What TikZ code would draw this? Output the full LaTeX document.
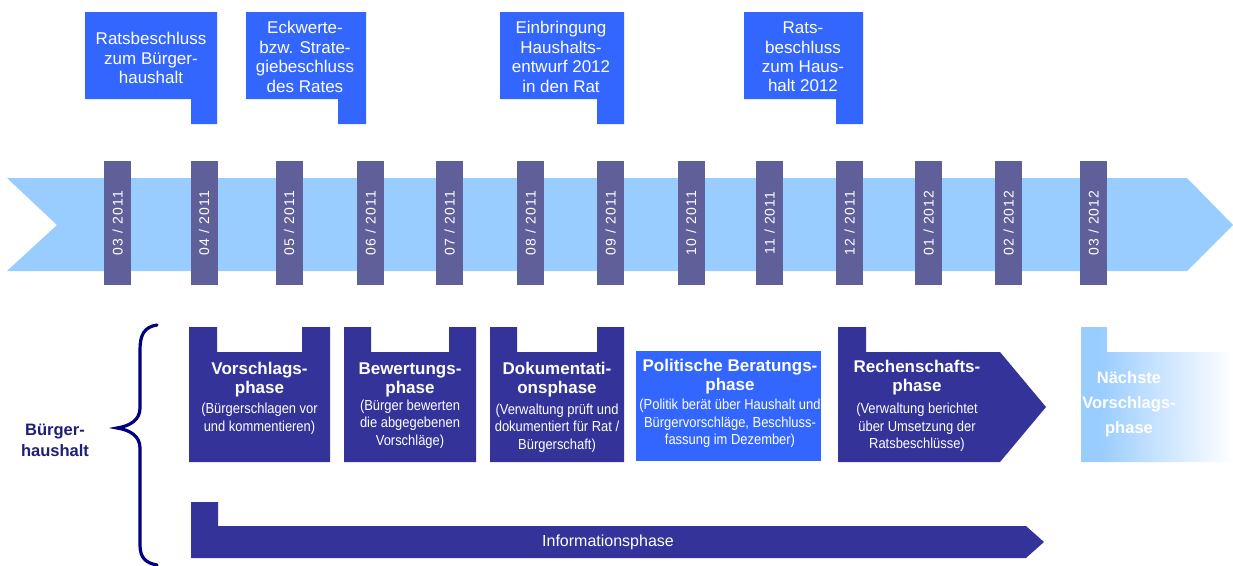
\documentclass[tikz,border=0pt]{standalone}
\usepackage{fontspec}
\setmainfont{Liberation Sans}
\newfontfamily\condensed[FakeStretch=0.89]{Liberation Sans}
\newfontfamily\tracked[LetterSpace=8]{Liberation Sans}
\definecolor{milestone}{HTML}{3366FF}
\definecolor{band}{HTML}{99CCFF}
\definecolor{monthbar}{HTML}{5F5F9A}
\definecolor{phase}{HTML}{333399}
\definecolor{bracecol}{HTML}{000080}
\definecolor{labelcol}{HTML}{1F1F75}
% light blue that fades out to white towards the right
\pgfdeclarehorizontalshading{fadeout}{100bp}{color(0bp)=(band); color(25bp)=(band);
  color(31bp)=(band); color(50bp)=(band!55!white); color(75bp)=(white); color(100bp)=(white)}

\begin{document}
\begin{tikzpicture}[x=0.75pt,y=-0.75pt,
  milestonetext/.style={text=white, align=center, inner sep=0pt,
    font=\fontsize{12.75pt}{14.6pt}\selectfont},
  monthlabel/.style={text=white, rotate=90, inner sep=0pt,
    font=\tracked\fontsize{10.5pt}{11pt}\selectfont},
  phasetitle/.style={text=white, align=center, inner sep=0pt,
    font=\bfseries\fontsize{12.75pt}{14.25pt}\selectfont},
  phasebody/.style={text=white, align=center, inner sep=0pt,
    font=\condensed\fontsize{10.9pt}{13.1pt}\selectfont},
]
\useasboundingbox (0,0) rectangle (1233,565);
\fill[white] (0,0) rectangle (1233,565);

% timeline band
\fill[band] (7,178) -- (1187,178) -- (1233,225) -- (1187,271) -- (7,271) -- (57,225) -- cycle;

% month markers
\foreach \xl/\m/\yr [count=\i] in {104/03/2011, 190.5/04/2011, 275.5/05/2011, 357/06/2011,
    436/07/2011, 517/08/2011, 597/09/2011, 677.5/10/2011, 756/11/2011, 836/12/2011,
    915/01/2012, 995/02/2012, 1080/03/2012}{
  \fill[monthbar] (\xl,161) rectangle ++(27,124);
  \node[monthlabel] (month\i) at (\xl+13.5,223) {\m{} / \yr};
}

% council decisions above the timeline
\fill[milestone] (85,12) -- (217,12) -- (217,124) -- (191,124) -- (191,99) -- (85,99) -- cycle;
\fill[milestone] (246,12) -- (366,12) -- (366,124) -- (338,124) -- (338,99) -- (246,99) -- cycle;
\fill[milestone] (500,12) -- (624,12) -- (624,124) -- (597,124) -- (597,99) -- (500,99) -- cycle;
\fill[milestone] (744,12) -- (863,12) -- (863,124) -- (836,124) -- (836,99) -- (744,99) -- cycle;
\node[milestonetext] (ms1) at (151,58) {Ratsbeschluss\\zum Bürger-\\haushalt};
\node[milestonetext] (ms2) at (305,57) {Eckwerte-\\bzw. Strate-\\giebeschluss\\des Rates};
\node[milestonetext] (ms3) at (561,57) {Einbringung\\Haushalts-\\entwurf 2012\\in den Rat};
\node[milestonetext] (ms4) at (803,57) {Rats-\\beschluss\\zum Haus-\\halt 2012};

% phases of the citizens' budget
\fill[phase] (189,327) -- (217,327) -- (217,352) -- (302,352) -- (302,327) -- (330,327) -- (330,462) -- (189,462) -- cycle;
\fill[phase] (344,327) -- (371,327) -- (371,352) -- (449,352) -- (449,327) -- (476,327) -- (476,462) -- (344,462) -- cycle;
\fill[phase] (490,327) -- (517,327) -- (517,352) -- (597,352) -- (597,327) -- (624,327) -- (624,462) -- (490,462) -- cycle;
\fill[milestone] (636,351) rectangle (821,461);
\fill[phase] (838,327) -- (866,327) -- (866,352) -- (1000,352) -- (1046,407) -- (1000,462) -- (838,462) -- cycle;

% next proposal phase, fading out to the right
\shade[shading=fadeout] (1081,327) -- (1107,327) -- (1107,352) -- (1233,352) -- (1233,462) -- (1081,462) -- cycle;

\node[phasetitle] (p1t) at (259.5,379.5) {Vorschlags-\\phase};
\node[phasebody]  (p1b) at (259.5,418.5) {(Bürgerschlagen vor\\und kommentieren)};
\node[phasetitle] (p2t) at (410,379.5) {Bewertungs-\\phase};
\node[phasebody]  (p2b) at (410,424) {(Bürger bewerten\\die abgegebenen\\Vorschläge)};
\node[phasetitle] (p3t) at (557,379.5) {Dokumentati-\\onsphase};
\node[phasebody]  (p3b) at (557,428) {(Verwaltung prüft und\\dokumentiert für Rat /\\Bürgerschaft)};
\node[phasetitle] (p4t) at (730,377) {Politische Beratungs-\\phase};
\node[phasebody]  (p4b) at (730,423.5) {(Politik berät über Haushalt und\\Bürgervorschläge, Beschluss-\\fassung im Dezember)};
\node[phasetitle] (p5t) at (917,378) {Rechenschafts-\\phase};
\node[phasebody]  (p5b) at (917,427.5) {(Verwaltung berichtet\\über Umsetzung der\\Ratsbeschlüsse)};
\node[text=white, align=center, inner sep=0pt,
  font=\bfseries\fontsize{12.4pt}{18.75pt}\selectfont] (p6) at (1129,404) {Nächste\\Vorschlags-\\phase};

% information phase running alongside
\fill[phase] (191,502) -- (218,502) -- (218,526) -- (1026,526) -- (1044,542) -- (1026,558) -- (191,558) -- cycle;
\node[text=white, inner sep=0pt, font=\fontsize{12pt}{14pt}\selectfont] (info) at (608,542) {Informationsphase};

% brace grouping the phases
\draw[bracecol, line width=2.4pt, line cap=round]
  (157,325) .. controls (144,327) and (140,335) .. (140,350)
  -- (140,408) .. controls (140,420) and (130,426) .. (117,428)
  .. controls (130,430) and (140,436) .. (140,448)
  -- (140,545) .. controls (140,558) and (146,563) .. (157,565);
\node[text=labelcol, align=center, inner sep=0pt,
  font=\bfseries\fontsize{12.4pt}{15.75pt}\selectfont] (bh) at (55,440) {Bürger-\\haushalt};
\end{tikzpicture}
\end{document}
